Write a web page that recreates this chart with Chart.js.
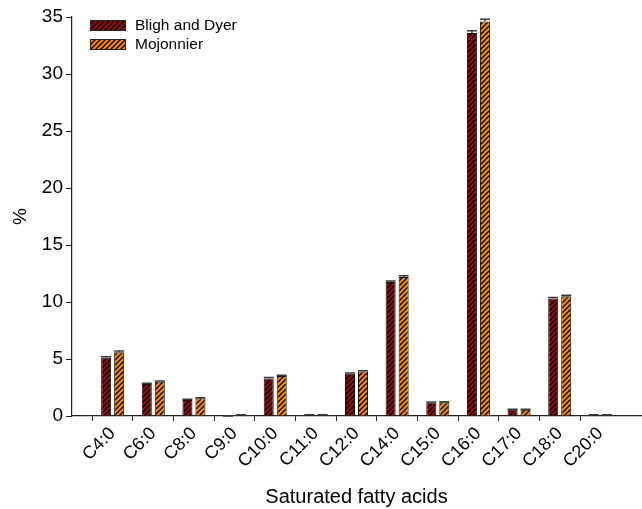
<!DOCTYPE html>
<html>
<head>
<meta charset="utf-8">
<script src="https://cdn.jsdelivr.net/npm/chart.js@4"></script>
<style>
html,body{margin:0;padding:0;background:#fff;}
#wrap{width:642px;height:509px;position:relative;}
</style>
</head>
<body>
<div id="wrap"><canvas id="c" width="642" height="509"></canvas></div>
<script>
const categories = ['C4:0','C6:0','C8:0','C9:0','C10:0','C11:0','C12:0','C14:0','C15:0','C16:0','C17:0','C18:0','C20:0'];
const blighDyer = [5.1, 2.8, 1.4, 0, 3.3, 0.1, 3.7, 11.75, 1.17, 33.6, 0.55, 10.3, 0.1];
const blighDyerErr = [0.1, 0.08, 0.06, 0, 0.08, 0.02, 0.08, 0.1, 0.06, 0.2, 0.05, 0.1, 0.02];
const mojonnier = [5.6, 3.0, 1.55, 0.1, 3.5, 0.1, 3.9, 12.2, 1.2, 34.6, 0.55, 10.5, 0.1];
const mojonnierErr = [0.1, 0.08, 0.06, 0.02, 0.08, 0.02, 0.08, 0.1, 0.06, 0.2, 0.05, 0.1, 0.02];
const yTicks = [0, 5, 10, 15, 20, 25, 30, 35];
const seriesNames = ['Bligh and Dyer', 'Mojonnier'];

function hatch(base) {
  const s = 5;
  const cv = document.createElement('canvas');
  cv.width = s; cv.height = s;
  const g = cv.getContext('2d');
  g.fillStyle = base; g.fillRect(0, 0, s, s);
  g.strokeStyle = '#000'; g.lineWidth = 1.4;
  g.beginPath();
  g.moveTo(0, s); g.lineTo(s, 0);
  g.moveTo(-1, 1); g.lineTo(1, -1);
  g.moveTo(s - 1, s + 1); g.lineTo(s + 1, s - 1);
  g.stroke();
  return g.createPattern(cv, 'repeat');
}
const ctx = document.getElementById('c').getContext('2d');
const redPat = hatch('#960c0c');
const orPat = hatch('#ff8c00');

const labels = [''].concat(categories, ['']);
const pad = arr => [null].concat(arr, [null]);

const errorBars = {
  id: 'errorBars',
  afterDatasetsDraw(chart) {
    const c = chart.ctx;
    const y = chart.scales.y;
    chart.data.datasets.forEach((ds, di) => {
      const meta = chart.getDatasetMeta(di);
      meta.data.forEach((el, i) => {
        const v = ds.data[i];
        const e = ds.errors[i];
        if (v === null || v === undefined) return;
        const top = y.getPixelForValue(v + (e || 0));
        const w = el.width;
        c.save();
        c.strokeStyle = '#3a3a3a';
        c.lineWidth = 1.5;
        c.beginPath();
        c.moveTo(el.x, el.y); c.lineTo(el.x, top);
        c.moveTo(el.x - w / 2, top); c.lineTo(el.x + w / 2, top);
        c.stroke();
        c.restore();
      });
    });
  }
};

const customLegend = {
  id: 'customLegend',
  afterDraw(chart) {
    const c = chart.ctx;
    const a = chart.chartArea;
    c.save();
    chart.data.datasets.forEach((ds, i) => {
      const bx = a.left + 18, by = a.top + 3 + i * 19, bw = 36, bh = 11;
      c.fillStyle = ds.backgroundColor;
      c.fillRect(bx, by, bw, bh);
      c.strokeStyle = '#222'; c.lineWidth = 1;
      c.strokeRect(bx + 0.5, by + 0.5, bw - 1, bh - 1);
      c.fillStyle = '#000';
      c.font = '15.5px "Liberation Sans", Arial, sans-serif';
      c.textBaseline = 'middle';
      c.textAlign = 'left';
      c.fillText(ds.label, bx + bw + 9, by + bh / 2 + 0.5);
    });
    c.restore();
  }
};

new Chart(ctx, {
  type: 'bar',
  data: {
    labels: labels,
    datasets: [
      { label: seriesNames[0], data: pad(blighDyer), errors: pad(blighDyerErr), backgroundColor: redPat, borderColor: '#111', borderWidth: 1 },
      { label: seriesNames[1], data: pad(mojonnier), errors: pad(mojonnierErr), backgroundColor: orPat, borderColor: '#111', borderWidth: 1 }
    ]
  },
  plugins: [errorBars, customLegend],
  options: {
    responsive: false,
    animation: false,
    devicePixelRatio: 1,
    layout: { padding: { top: 17, right: 1, bottom: 0, left: 0 } },
    plugins: { legend: { display: false }, tooltip: { enabled: false } },
    datasets: { bar: { categoryPercentage: 0.64, barPercentage: 0.77 } },
    scales: {
      x: {
        type: 'category',
        offset: false,
        grid: {
          drawOnChartArea: false, drawTicks: true, tickLength: 5,
          color: c => (c.index === 0 || c.index === labels.length - 1) ? 'rgba(0,0,0,0)' : '#222'
        },
        border: { color: '#222', width: 1.2 },
        ticks: {
          color: '#000', minRotation: 45, maxRotation: 45, autoSkip: false, padding: 2,
          font: { family: '"Liberation Sans", Arial, sans-serif', size: 18 }
        },
        title: {
          display: true, text: 'Saturated fatty acids', color: '#000',
          padding: 0,
          font: { family: '"Liberation Sans", Arial, sans-serif', size: 20 }
        },
        afterFit(s) { s.height = 93; s.paddingLeft = 0; s.paddingRight = 0; }
      },
      y: {
        min: 0, max: 35,
        afterBuildTicks(s) { s.ticks = yTicks.map(v => ({ value: v })); },
        grid: { drawOnChartArea: false, drawTicks: true, tickLength: 6, color: '#222' },
        border: { color: '#222', width: 1.2 },
        ticks: {
          color: '#000', padding: 3,
          font: { family: '"Liberation Sans", Arial, sans-serif', size: 19 }
        },
        title: {
          display: true, text: '%', color: '#000',
          padding: { top: 9, bottom: 0 },
          font: { family: '"Liberation Sans", Arial, sans-serif', size: 19 }
        },
        afterFit(s) { s.width = 72; }
      }
    }
  }
});
</script>
</body>
</html>
